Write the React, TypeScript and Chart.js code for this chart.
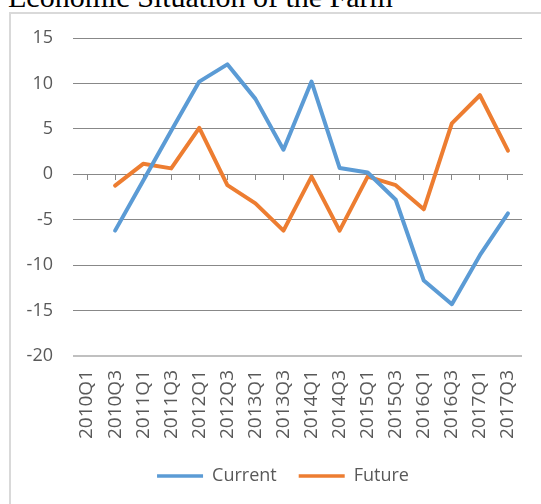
import React, { useEffect, useRef } from "react";
import { Chart, registerables } from "chart.js";

Chart.register(...registerables);

const TITLE = "Economic Situation of the Farm";
const categories = [
  "2010Q1", "2010Q3", "2011Q1", "2011Q3", "2012Q1", "2012Q3", "2013Q1", "2013Q3",
  "2014Q1", "2014Q3", "2015Q1", "2015Q3", "2016Q1", "2016Q3", "2017Q1", "2017Q3",
];
const currentValues = [null, -6.2, -0.7, 4.8, 10.2, 12.1, 8.3, 2.7, 10.2, 0.7, 0.2, -2.8, -11.7, -14.3, -8.9, -4.3];
const futureValues = [null, -1.25, 1.15, 0.65, 5.1, -1.2, -3.2, -6.2, -0.25, -6.2, -0.25, -1.2, -3.85, 5.6, 8.7, 2.6];
const yMin = -20;
const yMax = 15;
const yStep = 5;

const BLUE = "#5B9BD5";
const ORANGE = "#ED7D31";
const FONT = "'Open Sans', 'Noto Sans', sans-serif";
const TEXT = "#595959";

const legendShift = {
  id: "legendShift",
  afterLayout(chart: any) {
    if (chart.legend) {
      chart.legend.left += 22;
      chart.legend.right += 22;
    }
  },
};

export default function App() {
  const ref = useRef<HTMLCanvasElement | null>(null);

  useEffect(() => {
    if (!ref.current) return;
    const chart = new Chart(ref.current, {
      type: "line",
      data: {
        labels: categories,
        datasets: [
          {
            label: "Current",
            data: currentValues,
            borderColor: BLUE,
            backgroundColor: BLUE,
            borderWidth: 4,
            pointRadius: 0,
            tension: 0,
            borderCapStyle: "round",
            borderJoinStyle: "round",
            xAxisID: "x",
          },
          {
            label: "Future",
            data: futureValues,
            borderColor: ORANGE,
            backgroundColor: ORANGE,
            borderWidth: 4,
            pointRadius: 0,
            tension: 0,
            borderCapStyle: "round",
            borderJoinStyle: "round",
            xAxisID: "x",
          },
        ],
      },
      plugins: [legendShift],
      options: {
        responsive: false,
        animation: false,
        layout: { padding: { left: 0, right: 19, top: 38, bottom: 9 } },
        plugins: {
          title: { display: false },
          tooltip: { enabled: false },
          legend: {
            position: "bottom",
            labels: {
              boxWidth: 46,
              boxHeight: 3.5,
              padding: 22,
              color: TEXT,
              font: { family: FONT, size: 18 },
              generateLabels: (c: any) =>
                Chart.defaults.plugins.legend.labels.generateLabels(c).map((it: any) => ({
                  ...it,
                  lineWidth: 0,
                  fillStyle: it.strokeStyle,
                })),
            },
          },
        },
        scales: {
          x: {
            type: "category",
            position: "bottom",
            offset: true,
            grid: { display: false },
            border: { display: false },
            ticks: {
              autoSkip: false,
              minRotation: 90,
              maxRotation: 90,
              padding: 6,
              color: TEXT,
              font: { family: FONT, size: 19 },
            },
            afterFit: (s: any) => {
              s.height = 89;
            },
          },
          x2: {
            type: "category",
            position: { y: 0 },
            offset: true,
            grid: {
              drawOnChartArea: false,
              drawTicks: true,
              tickLength: 5,
              color: "#888888",
              offset: false,
            },
            border: { display: true, color: "#888888", width: 1 },
            ticks: { display: false, autoSkip: false },
          },
          y: {
            min: yMin,
            max: yMax,
            ticks: {
              stepSize: yStep,
              padding: 20,
              color: TEXT,
              font: { family: FONT, size: 18 },
            },
            border: { display: false },
            grid: {
              drawTicks: false,
              color: (ctx: any) => (ctx.tick && ctx.tick.value === yMin ? "#c0c0c0" : "#888888"),
              lineWidth: (ctx: any) => (ctx.tick && ctx.tick.value === yMin ? 2 : 1),
            },
            afterFit: (s: any) => {
              s.width = 73;
            },
          },
        },
      },
    });
    return () => chart.destroy();
  }, []);

  return (
    <div style={{ position: "absolute", left: 0, top: 0, width: 541, height: 504, overflow: "hidden", background: "#fff" }}>
      <div
        style={{
          position: "absolute",
          left: 8,
          top: -18,
          fontFamily: "'Liberation Serif', serif",
          fontSize: 30,
          lineHeight: "30px",
          whiteSpace: "nowrap",
          color: "#000",
        }}
      >
        {TITLE}
      </div>
      <div
        style={{
          position: "absolute",
          left: 9,
          top: 12,
          width: 700,
          height: 700,
          border: "2px solid #d9d9d9",
          boxSizing: "border-box",
        }}
      />
      <canvas ref={ref} width={541} height={504} style={{ position: "absolute", left: 0, top: 0, width: 541, height: 504 }} />
    </div>
  );
}
